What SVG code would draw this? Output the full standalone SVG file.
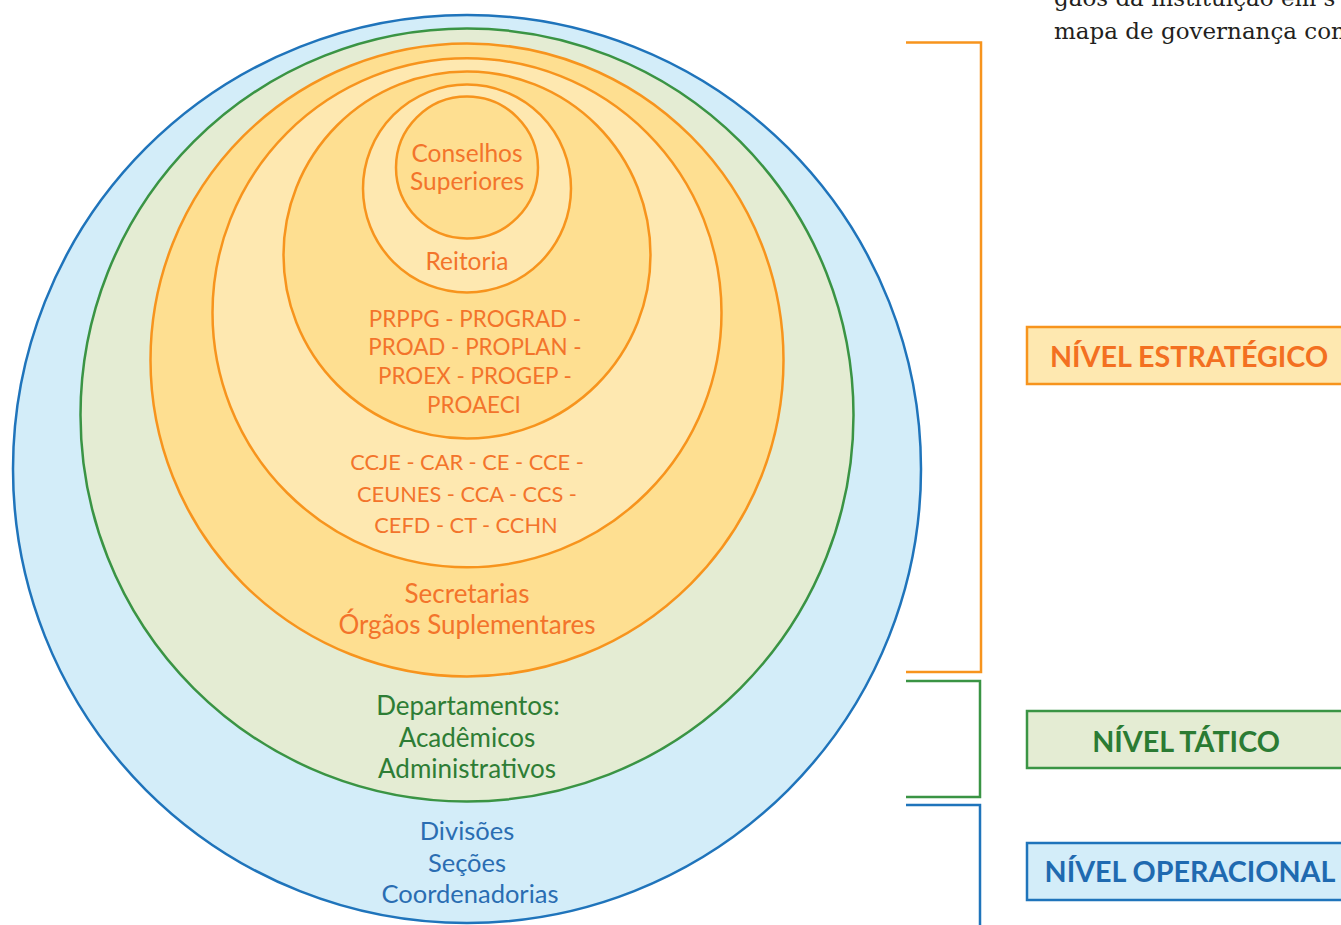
<svg xmlns="http://www.w3.org/2000/svg" width="1341" height="925" viewBox="0 0 1341 925">
<style>
.t{font-family:Lato,"Noto Sans",sans-serif;font-size:26px;text-anchor:middle}
.s24{font-size:24.5px}
.caps{font-size:22.4px}
.caps2{font-size:21.8px}
.o{fill:#f3742b}.g{fill:#2e7d35}.b{fill:#2a6db2}
.ring{stroke-width:2.5}
.ro{stroke:#f7941d}.rg{stroke:#3a9444}.rb{stroke:#1f74bb}
.dark{fill:#fedf91}.light{fill:#fee8b0}
.lbl{font-family:Lato,"Noto Sans",sans-serif;font-size:28.7px;font-weight:700;text-anchor:middle}
.br{fill:none;stroke-width:2.5}
.serif{font-family:"DejaVu Serif",serif;font-size:23px;fill:#231f20}
</style>
<rect width="1341" height="925" fill="#ffffff"/>
<g id="top-text">
<text class="serif" x="1054" y="6">gãos da instituição em s</text>
<text class="serif" x="1054" y="39">mapa de governança con</text>
</g>
<g id="operacional">
<circle class="ring rb" cx="467" cy="469" r="454" fill="#d3edf9"/>
<text class="t b" x="467" y="840" style="font-size:25.5px">Divisões</text>
<text class="t b" x="467" y="872" style="font-size:25.5px">Seções</text>
<text class="t b" x="470" y="903" style="font-size:25.5px">Coordenadorias</text>
</g>
<g id="tatico">
<circle class="ring rg" cx="467" cy="415" r="386.5" fill="#e4ecd3"/>
<text class="t g" x="468" y="715">Departamentos:</text>
<text class="t g" x="467" y="747">Acadêmicos</text>
<text class="t g" x="467" y="778">Administrativos</text>
</g>
<g id="secretarias">
<circle class="ring ro dark" cx="467" cy="360" r="316.5"/>
<text class="t o" x="467" y="603">Secretarias</text>
<text class="t o" x="467" y="634">Órgãos Suplementares</text>
</g>
<g id="centros">
<circle class="ring ro light" cx="467" cy="312.8" r="254.5"/>
<text class="t o caps2" x="467" y="470">CCJE - CAR - CE - CCE -</text>
<text class="t o caps2" x="467" y="502">CEUNES - CCA - CCS -</text>
<text class="t o caps2" x="466" y="533">CEFD - CT - CCHN</text>
</g>
<g id="pro-reitorias">
<circle class="ring ro dark" cx="467" cy="255" r="183.5"/>
<text class="t o caps" x="475" y="327">PRPPG - PROGRAD -</text>
<text class="t o caps" x="475" y="355">PROAD - PROPLAN -</text>
<text class="t o caps" x="475" y="384">PROEX - PROGEP -</text>
<text class="t o caps" x="474" y="413">PROAECI</text>
</g>
<g id="reitoria">
<circle class="ring ro light" cx="467" cy="188.5" r="104"/>
<text class="t o s24" x="467" y="270">Reitoria</text>
</g>
<g id="conselhos">
<circle class="ring ro dark" cx="467" cy="167.5" r="71"/>
<text class="t o s24" x="467" y="162">Conselhos</text>
<text class="t o s24" x="467" y="190">Superiores</text>
</g>
<g id="connectors">
<path class="br ro" d="M906 42.5H981V672H906"/>
<path class="br rg" d="M906 681H980V797H906"/>
<path class="br rb" d="M906 805H980V925"/>
</g>
<g id="nivel-estrategico">
<rect x="1027" y="327" width="330" height="57" fill="#fee8b0" stroke="#f7941d" stroke-width="2.5"/>
<text class="lbl" x="1189" y="367" fill="#f37021">NÍVEL ESTRATÉGICO</text>
</g>
<g id="nivel-tatico">
<rect x="1027" y="711" width="330" height="57" fill="#e4ecd3" stroke="#3a9444" stroke-width="2.5"/>
<text class="lbl" x="1186" y="752" fill="#2b7b33">NÍVEL TÁTICO</text>
</g>
<g id="nivel-operacional">
<rect x="1027" y="843" width="330" height="57" fill="#d3edf9" stroke="#1f74bb" stroke-width="2.5"/>
<text class="lbl" x="1190" y="882" fill="#1f6ab0">NÍVEL OPERACIONAL</text>
</g>
</svg>
